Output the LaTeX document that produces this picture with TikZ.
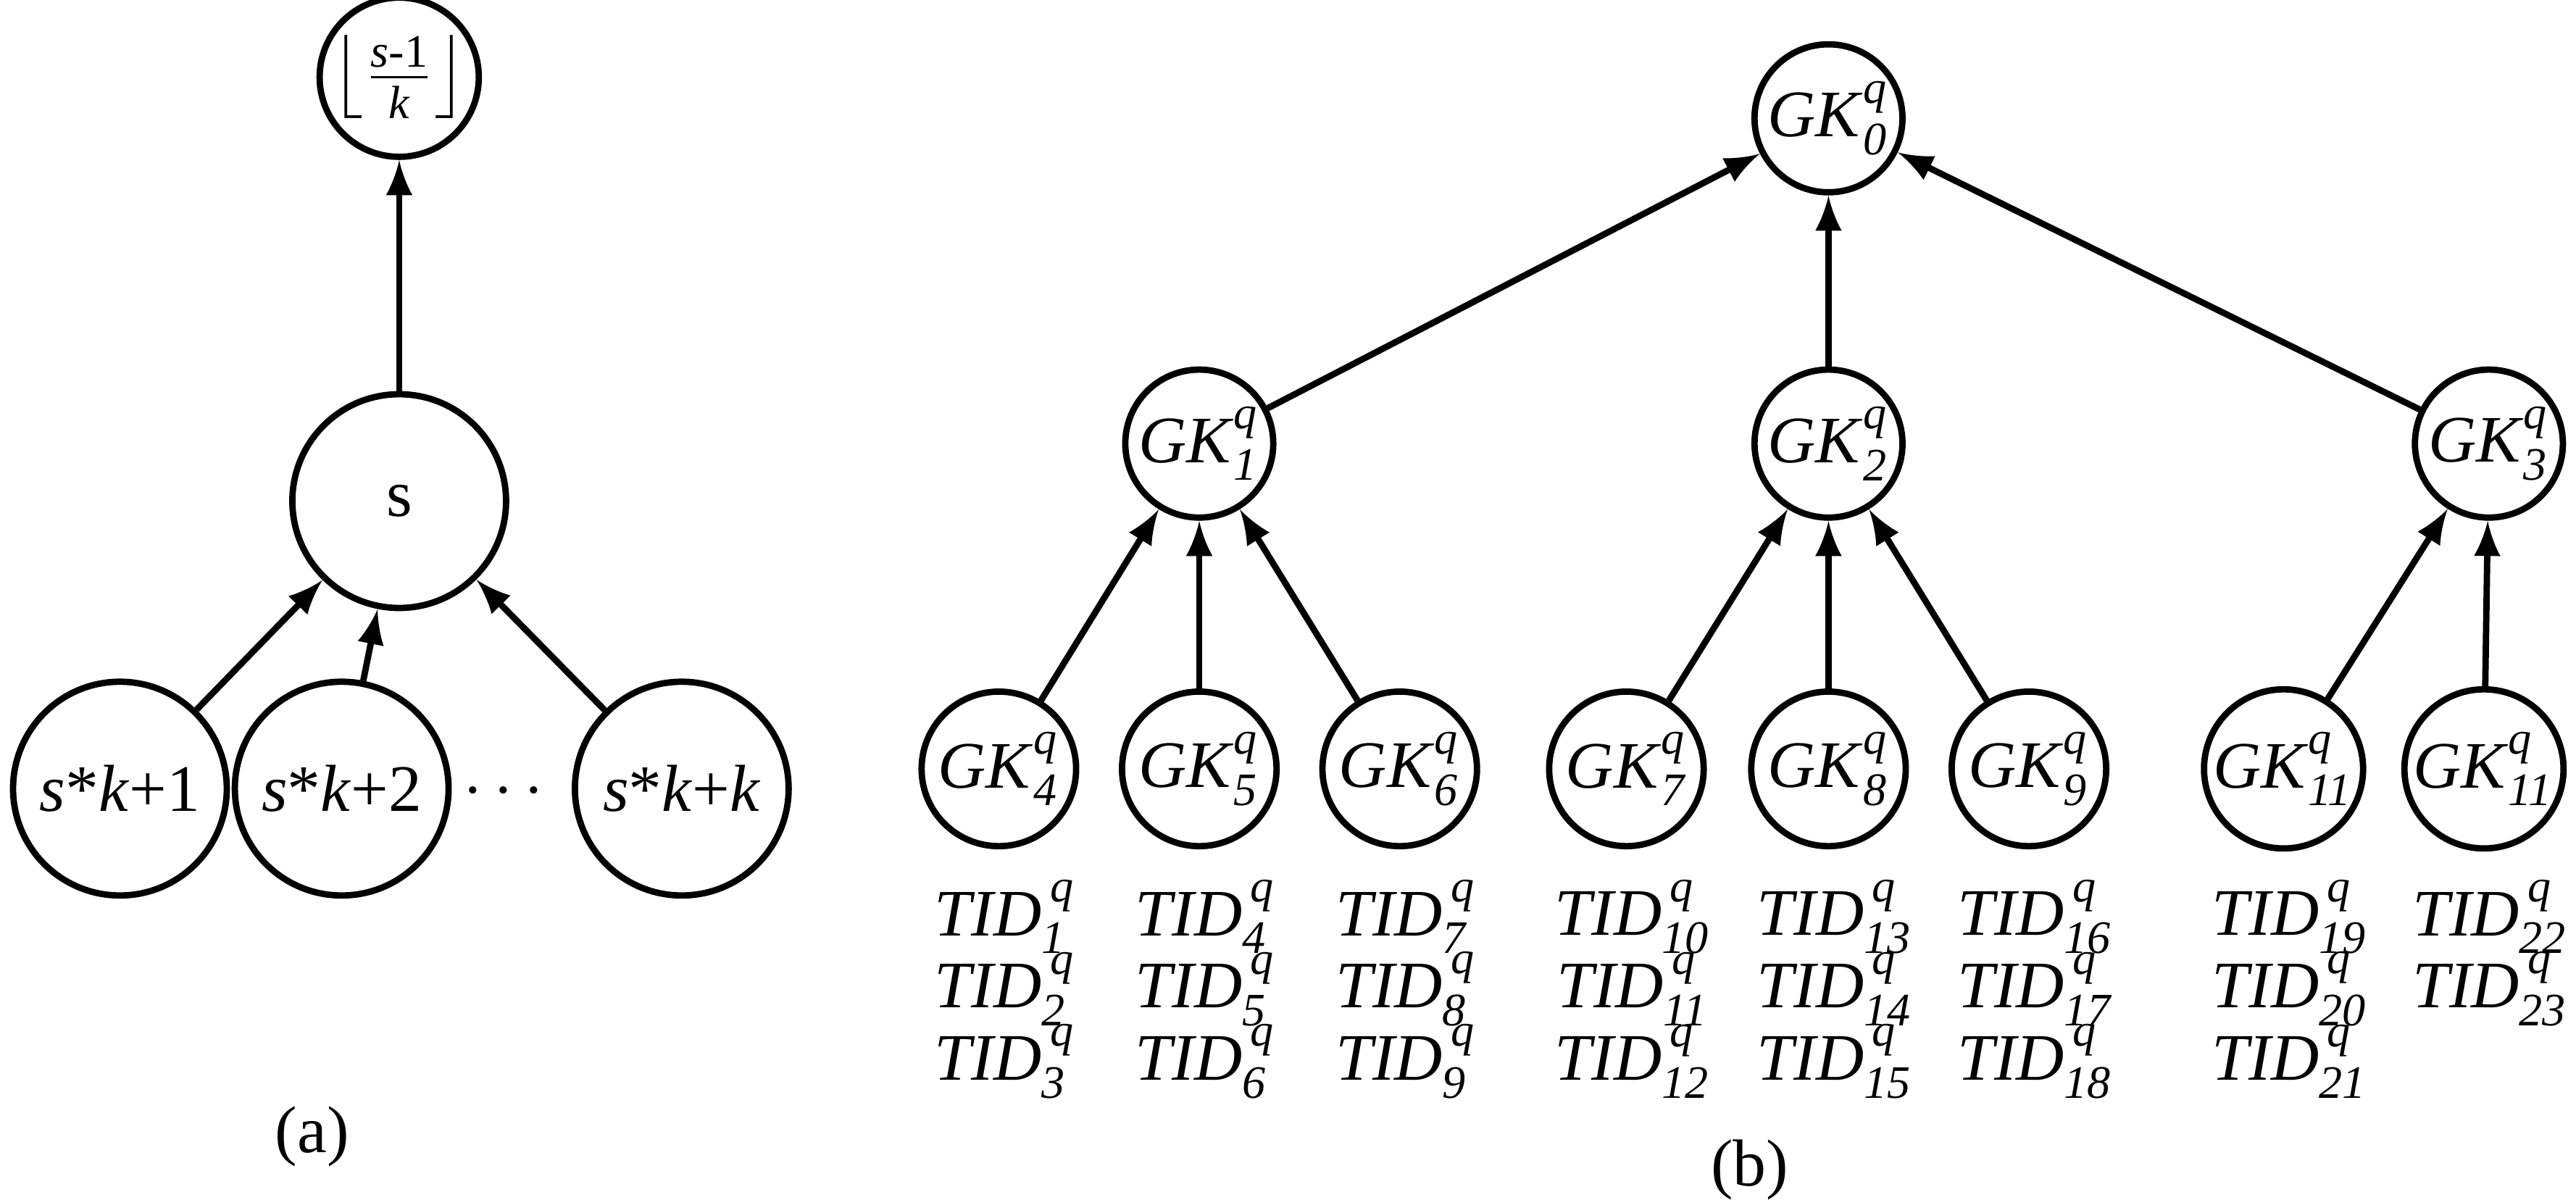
\documentclass[tikz,border=0pt]{standalone}
\usepackage{amsmath}
\usepackage{fontspec}
\setmainfont{Liberation Serif}
\begin{document}
\begin{tikzpicture}[x=0.01cm,y=-0.01cm,
  nd/.style={circle,draw,line width=1.1pt,minimum size=#1*0.02cm,inner sep=0pt},
  ar/.style={-latex,line width=1.1pt},
  tx/.style={font=\fontsize{11.5}{14}\selectfont}]
\useasboundingbox (0,0) rectangle (1568,730);
\newcommand{\GK}[1]{\textit{GK}$^{\text{\itshape q}}_{\text{\itshape #1}}$}
\newcommand{\TID}[1]{\textit{TID}$^{\,\text{\itshape q}}_{\text{\itshape #1}}$}
% (a)
\node[nd=33,tx] (ta) at (243,47) {$\left\lfloor\frac{\text{\itshape s-}\text{1}}{\text{\itshape k}}\right\rfloor$};
\node[nd=65,tx] (s) at (243,305) {s};
\node[nd=65,tx] (c1) at (73,480) {\textit{s}*\textit{k}+1};
\node[nd=65,tx] (c2) at (208,480) {\textit{s}*\textit{k}+2};
\node[nd=65,tx] (c3) at (415,480) {\textit{s}*\textit{k}+\textit{k}};
\node[tx] (dots) at (310,482) {$\cdots$};
\draw[ar] (s) -- (ta);
\draw[ar] (c1) -- (s);
\draw[ar] (c2) -- (s);
\draw[ar] (c3) -- (s);
\node[tx] (la) at (190,692) {(a)};
% (b)
\node[nd=45,tx] (g0) at (1113,72) {\GK{0}};
\node[nd=45,tx] (g1) at (730,270) {\GK{1}};
\node[nd=45,tx] (g2) at (1113,270) {\GK{2}};
\node[nd=45,tx] (g3) at (1515,270) {\GK{3}};
\foreach \n/\x/\l in {4/608/4,5/730/5,6/852/6,7/990/7,8/1113/8,9/1235/9,10/1390/11,11/1512/11}
  \node[nd=47,tx] (g\n) at (\x,468) {\GK{\l}};
\foreach \a in {1,2,3} \draw[ar] (g\a) -- (g0);
\foreach \a in {4,5,6} \draw[ar] (g\a) -- (g1);
\foreach \a in {7,8,9} \draw[ar] (g\a) -- (g2);
\foreach \a in {10,11} \draw[ar] (g\a) -- (g3);
\foreach \x/\a/\b/\c in {612/1/2/3,734/4/5/6,856/7/8/9,994/10/11/12,1117/13/14/15,1239/16/17/18,1394/19/20/21}{
  \node[tx] (t\a) at (\x,558) {\TID{\a}};
  \node[tx] (t\b) at (\x,602) {\TID{\b}};
  \node[tx] (t\c) at (\x,646) {\TID{\c}};}
\node[tx] (t22) at (1516,558) {\TID{22}};
\node[tx] (t23) at (1516,602) {\TID{23}};
\node[tx] (lb) at (1065,712) {(b)};
\end{tikzpicture}
\end{document}
